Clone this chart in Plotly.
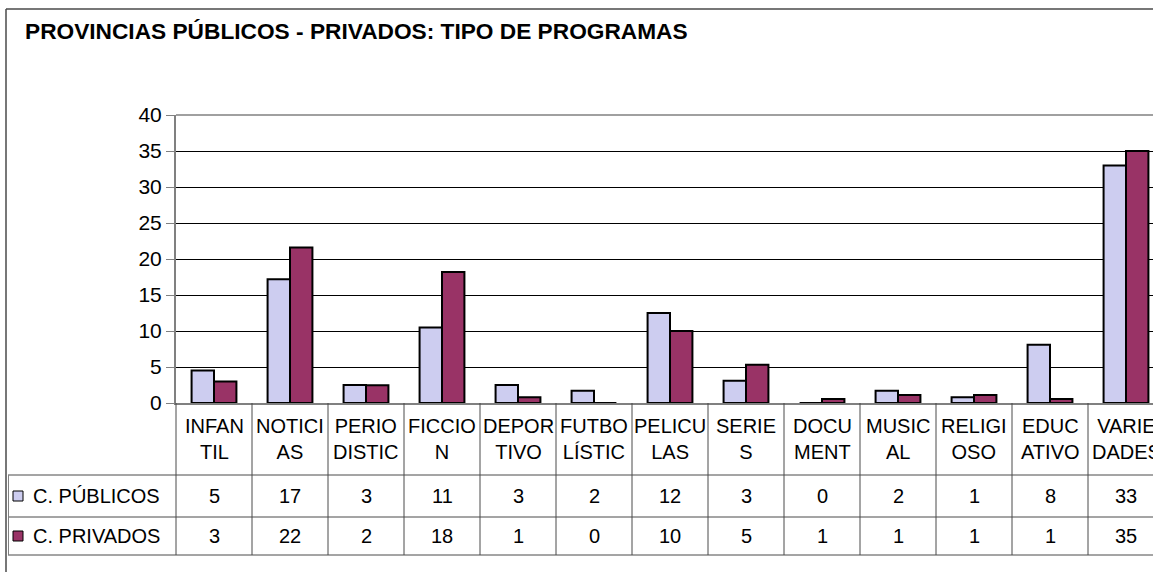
import plotly.graph_objects as go

# ---------------- data ----------------
categories = ["INFANTIL", "NOTICIAS", "PERIODISTIC", "FICCION", "DEPORTIVO", "FUTBOLÍSTIC",
              "PELICULAS", "SERIES", "DOCUMENT", "MUSICAL", "RELIGIOSO", "EDUCATIVO", "VARIEDADES"]
header_labels = ["INFAN<br>TIL", "NOTICI<br>AS", "PERIO<br>DISTIC", "FICCIO<br>N", "DEPOR<br>TIVO",
                 "FUTBO<br>LÍSTIC", "PELICU<br>LAS", "SERIE<br>S", "DOCU<br>MENT", "MUSIC<br>AL",
                 "RELIGI<br>OSO", "EDUC<br>ATIVO", "VARIE<br>DADES"]
publicos = [4.5, 17.2, 2.5, 10.5, 2.5, 1.7, 12.5, 3.1, 0, 1.7, 0.8, 8.1, 33.0]
privados = [3.0, 21.6, 2.45, 18.2, 0.8, 0, 10.0, 5.3, 0.55, 1.1, 1.1, 0.55, 35.0]
publicos_table = ["5", "17", "3", "11", "3", "2", "12", "3", "0", "2", "1", "8", "33"]
privados_table = ["3", "22", "2", "18", "1", "0", "10", "5", "1", "1", "1", "1", "35"]
series_names = ["C. PÚBLICOS", "C. PRIVADOS"]
title = "PROVINCIAS PÚBLICOS - PRIVADOS: TIPO DE PROGRAMAS"
y_ticks = [0, 5, 10, 15, 20, 25, 30, 35, 40]

# ---------------- layout geometry (pixels) ----------------
W, H = 1153, 572
PL, PR, PT, PB = 176, 1153, 115, 403     # plot area
COLW = 76
FONT = "Liberation Sans, Arial, sans-serif"
PUB_COLOR = "#cdcdf0"
PRI_COLOR = "#993366"
LINE = "#4a4a4a"


def px(p):
    return (p - PL) / (PR - PL)


def py(p):
    return (PB - p) / (PB - PT)


xmax = -0.5 + (PR - PL) / COLW

fig = go.Figure()
fig.add_trace(go.Bar(
    x=list(range(len(categories))), y=publicos, name=series_names[0],
    marker=dict(color=PUB_COLOR, line=dict(color="black", width=2)),
    hovertext=categories,
))
fig.add_trace(go.Bar(
    x=list(range(len(categories))), y=privados, name=series_names[1],
    marker=dict(color=PRI_COLOR, line=dict(color="black", width=2)),
    hovertext=categories,
))

shapes = []
annotations = []

# outer frame (left + top)
shapes.append(dict(type="line", xref="paper", yref="paper", x0=px(6), x1=px(1160), y0=py(9), y1=py(9),
                   line=dict(color=LINE, width=1.5)))
shapes.append(dict(type="line", xref="paper", yref="paper", x0=px(6), x1=px(6), y0=py(9), y1=py(580),
                   line=dict(color=LINE, width=1.5)))
# plot-area top border (grey)
shapes.append(dict(type="line", xref="paper", yref="paper", x0=0, x1=1, y0=1, y1=1,
                   line=dict(color="#a0a0a0", width=2)))

# table lines
row_y = [PB, 475, 517, 555]
for i in range(len(categories) + 1):
    xx = px(PL + i * COLW)
    shapes.append(dict(type="line", xref="paper", yref="paper", x0=xx, x1=xx, y0=py(PB), y1=py(555),
                       line=dict(color=LINE, width=1)))
for yy in row_y[1:]:
    shapes.append(dict(type="line", xref="paper", yref="paper", x0=px(8), x1=px(1160), y0=py(yy), y1=py(yy),
                       line=dict(color=LINE, width=1)))
shapes.append(dict(type="line", xref="paper", yref="paper", x0=px(8.5), x1=px(8.5), y0=py(475), y1=py(555),
                   line=dict(color="#808080", width=1)))

# legend keys
for k, (col, ymid) in enumerate([(PUB_COLOR, 496), (PRI_COLOR, 536)]):
    shapes.append(dict(type="rect", xref="paper", yref="paper", x0=px(13), x1=px(23),
                       y0=py(ymid - 5), y1=py(ymid + 5), fillcolor=col,
                       line=dict(color="black", width=1)))
    annotations.append(dict(xref="paper", yref="paper", x=px(31), y=py(ymid), text=series_names[k],
                            showarrow=False, xanchor="left", yanchor="middle",
                            font=dict(family=FONT, size=20, color="black")))

# table contents
for i in range(len(categories)):
    annotations.append(dict(xref="x", yref="paper", x=i, y=py(439), text=header_labels[i],
                            showarrow=False, xanchor="center", yanchor="middle",
                            font=dict(family=FONT, size=20, color="black")))
    annotations.append(dict(xref="x", yref="paper", x=i, y=py(496), text=publicos_table[i],
                            showarrow=False, xanchor="center", yanchor="middle",
                            font=dict(family=FONT, size=20, color="black")))
    annotations.append(dict(xref="x", yref="paper", x=i, y=py(536), text=privados_table[i],
                            showarrow=False, xanchor="center", yanchor="middle",
                            font=dict(family=FONT, size=20, color="black")))

# title
annotations.append(dict(xref="paper", yref="paper", x=px(23), y=py(31), text="<b>" + title + "</b>",
                        showarrow=False, xanchor="left", yanchor="middle",
                        font=dict(family=FONT, size=22.7, color="black")))

fig.update_layout(
    width=W, height=H, autosize=False,
    margin=dict(l=PL, r=W - PR, t=PT, b=H - PB, pad=0),
    paper_bgcolor="white", plot_bgcolor="white",
    barmode="group", bargap=0.41, bargroupgap=0,
    showlegend=False,
    shapes=shapes, annotations=annotations,
    xaxis=dict(range=[-0.5, xmax], showticklabels=False, showgrid=False, zeroline=False,
               showline=True, linecolor="#808080", linewidth=2, ticks=""),
    yaxis=dict(range=[0, 40], tickvals=y_ticks, showgrid=True, gridcolor="black", gridwidth=1,
               zeroline=False, showline=True, linecolor="#808080", linewidth=2,
               ticks="outside", ticklen=8, tickcolor="#808080", tickwidth=1,
               tickfont=dict(family=FONT, size=21, color="black")),
)

fig.write_html("out.html", config={"displayModeBar": False},
               post_script="document.body.style.margin='0';document.body.style.overflow='hidden';")
